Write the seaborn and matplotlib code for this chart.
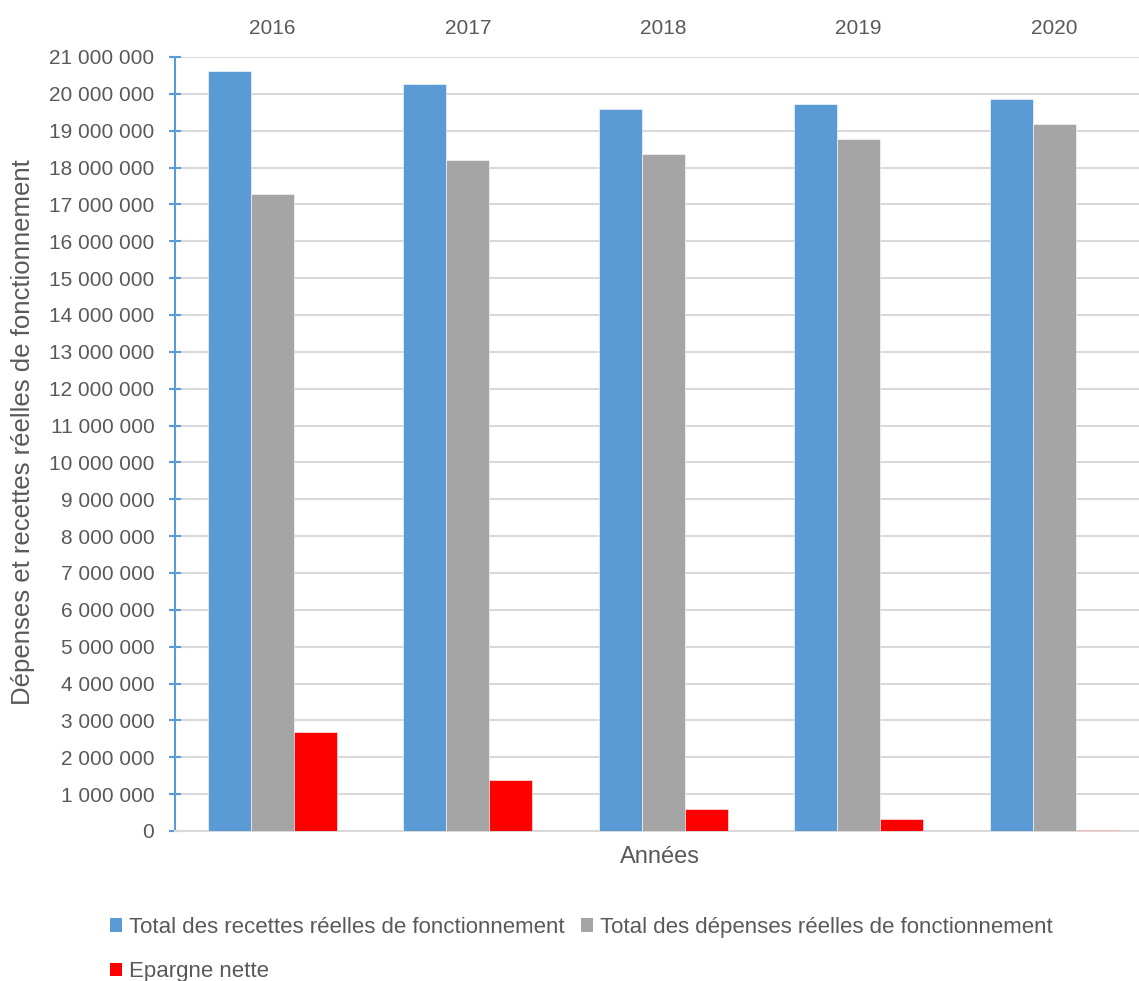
import matplotlib
matplotlib.use("Agg")
import matplotlib.pyplot as plt
import matplotlib.ticker as mticker
from matplotlib.patches import Patch
import pandas as pd
import seaborn as sns

# Budget figures per year (euros)
annees = ["2016", "2017", "2018", "2019", "2020"]
recettes = [20630000, 20270000, 19590000, 19720000, 19860000]
depenses = [17270000, 18200000, 18360000, 18770000, 19170000]
epargne = [2680000, 1380000, 590000, 320000, 30000]

series = [
    "Total des recettes réelles de fonctionnement",
    "Total des dépenses réelles de fonctionnement",
    "Epargne nette",
]
couleurs = ["#5B9BD5", "#A5A5A5", "#FF0000"]

df = pd.DataFrame({
    "Année": annees * 3,
    "Série": [series[0]] * 5 + [series[1]] * 5 + [series[2]] * 5,
    "Montant": recettes + depenses + epargne,
})

sns.set_theme(style="white")
plt.rcParams["font.family"] = ["Liberation Sans", "DejaVu Sans"]
txt = "#595959"

fig = plt.figure(figsize=(11.39, 9.81), dpi=100)
ax = fig.add_axes([174.5 / 1139, 150 / 981, 977.5 / 1139, 774 / 981])

sns.barplot(data=df, x="Année", y="Montant", hue="Série", order=annees,
            hue_order=series, palette=couleurs, width=0.66, gap=0,
            saturation=1, edgecolor="white", linewidth=0.4, ax=ax,
            legend=False, zorder=3)

ax.set_ylim(0, 21000000)
ax.set_xlim(-0.5, 4.5)
ax.yaxis.set_major_locator(mticker.MultipleLocator(1000000))
ax.yaxis.set_major_formatter(
    mticker.FuncFormatter(lambda v, p: f"{int(v):,}".replace(",", " ")))
ax.grid(axis="y", color="#D9D9D9", linewidth=1.5, zorder=0)
ax.set_axisbelow(True)

for s in ["top", "right"]:
    ax.spines[s].set_visible(False)
ax.spines["left"].set_color("#5B9BD5")
ax.spines["left"].set_linewidth(1.5)
ax.spines["bottom"].set_color("#D9D9D9")
ax.spines["bottom"].set_linewidth(1.5)

ax.xaxis.tick_top()
ax.tick_params(axis="x", top=False, bottom=False, pad=8, labelsize=15,
               labelcolor=txt)
ax.tick_params(axis="y", left=True, direction="inout", length=9, width=1.5,
               color="#5B9BD5", pad=10, labelsize=15, labelcolor=txt)

ax.set_xlabel("Années", fontsize=17, color=txt)
ax.xaxis.set_label_position("bottom")
ax.xaxis.set_label_coords(0.497, -0.02)
ax.set_ylabel("Dépenses et recettes réelles de fonctionnement",
              fontsize=18.5, color=txt)
ax.yaxis.set_label_coords(-0.143, 0.515)

# row-major order across two columns
ordre = [0, 2, 1]
handles = [Patch(facecolor=couleurs[i], edgecolor="none") for i in ordre]
labels = [series[i] for i in ordre]
fig.legend(handles, labels, loc="upper left",
           bbox_to_anchor=(90 / 1139, 1 - 897 / 981), ncol=2, frameon=False,
           fontsize=16, labelcolor=txt, handlelength=0.55, handleheight=0.55,
           handletextpad=0.3, columnspacing=0.75, labelspacing=1.05)

fig.savefig("out.png", dpi=100, facecolor="white")
